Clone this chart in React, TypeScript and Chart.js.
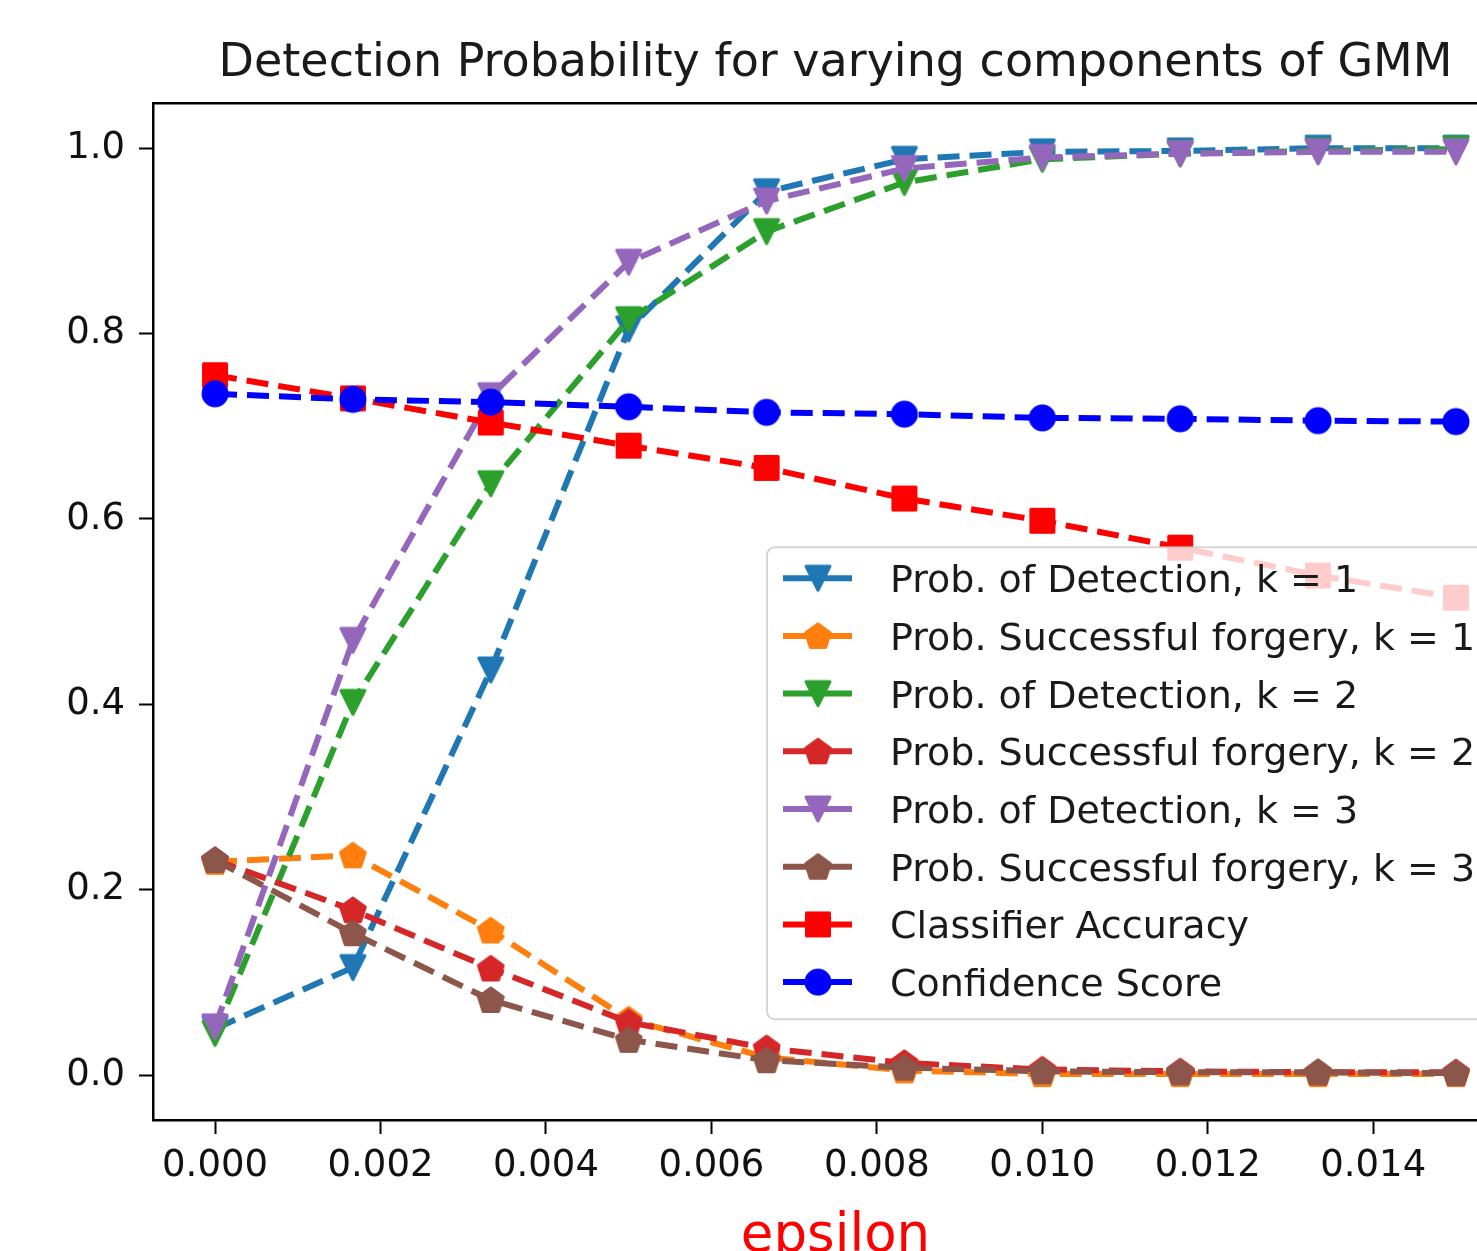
import React, { useEffect, useRef } from 'react';
import { Chart, registerables } from 'chart.js';

Chart.register(...registerables);

// ---- data ----
const epsilon = [0, 0.0016667, 0.0033333, 0.005, 0.0066667, 0.0083333, 0.01, 0.0116667, 0.0133333, 0.015];
const detectionK1 = [0.05, 0.116, 0.437, 0.805, 0.953, 0.988, 0.996, 0.997, 1.0, 1.0];
const forgeryK1 = [0.23, 0.237, 0.156, 0.06, 0.019, 0.005, 0.001, 0.001, 0.001, 0.001];
const detectionK2 = [0.045, 0.402, 0.638, 0.815, 0.91, 0.963, 0.988, 0.994, 0.997, 0.999];
const forgeryK2 = [0.232, 0.178, 0.115, 0.057, 0.029, 0.013, 0.006, 0.004, 0.003, 0.003];
const detectionK3 = [0.052, 0.469, 0.733, 0.877, 0.943, 0.978, 0.99, 0.994, 0.996, 0.996];
const forgeryK3 = [0.232, 0.153, 0.081, 0.038, 0.016, 0.008, 0.004, 0.003, 0.003, 0.002];
const classifierAccuracy = [0.755, 0.73, 0.704, 0.679, 0.655, 0.622, 0.598, 0.569, 0.539, 0.515];
const confidenceScore = [0.735, 0.729, 0.726, 0.721, 0.715, 0.713, 0.709, 0.708, 0.706, 0.705];

const seriesLabels = [
  'Prob. of Detection, k = 1',
  'Prob. Successful forgery, k = 1',
  'Prob. of Detection, k = 2',
  'Prob. Successful forgery, k = 2',
  'Prob. of Detection, k = 3',
  'Prob. Successful forgery, k = 3',
  'Classifier Accuracy',
  'Confidence Score',
];
const seriesValues = [detectionK1, forgeryK1, detectionK2, forgeryK2, detectionK3, forgeryK3, classifierAccuracy, confidenceScore];
const seriesColors = ['#1f77b4', '#ff7f0e', '#2ca02c', '#d62728', '#9467bd', '#8c564b', '#ff0000', '#0000ff'];
const seriesMarkers = ['triDown', 'pentagon', 'triDown', 'pentagon', 'triDown', 'pentagon', 'square', 'circle'];

const xTicks = [0, 0.002, 0.004, 0.006, 0.008, 0.01, 0.012, 0.014];
const yTicks = [0, 0.2, 0.4, 0.6, 0.8, 1.0];

const FONT = '"DejaVu Sans", "Liberation Sans", sans-serif';

function makeMarker(shape: string, color: string): HTMLCanvasElement {
  const size = 34;
  const c = document.createElement('canvas');
  c.width = size;
  c.height = size;
  const ctx = c.getContext('2d')!;
  const m = size / 2;
  ctx.fillStyle = color;
  ctx.strokeStyle = color;
  ctx.lineWidth = 3;
  ctx.lineJoin = 'round';
  ctx.beginPath();
  if (shape === 'circle') {
    ctx.arc(m, m, 12, 0, Math.PI * 2);
  } else if (shape === 'square') {
    ctx.rect(m - 11.5, m - 11.5, 23, 23);
  } else if (shape === 'triDown') {
    ctx.moveTo(m - 12, m - 12);
    ctx.lineTo(m + 12, m - 12);
    ctx.lineTo(m, m + 12);
    ctx.closePath();
  } else {
    const r = 13;
    for (let i = 0; i < 5; i++) {
      const a = -Math.PI / 2 + (i * 2 * Math.PI) / 5;
      const px = m + r * Math.cos(a);
      const py = m + 1 + r * Math.sin(a);
      if (i === 0) ctx.moveTo(px, py);
      else ctx.lineTo(px, py);
    }
    ctx.closePath();
  }
  ctx.fill();
  ctx.stroke();
  return c;
}

export default function App() {
  const ref = useRef<HTMLCanvasElement | null>(null);

  useEffect(() => {
    if (!ref.current) return;
    const markers = seriesMarkers.map((s, i) => makeMarker(s, seriesColors[i]));

    const datasets = seriesValues.map((vals, i) => ({
      label: seriesLabels[i],
      data: epsilon.map((x, j) => ({ x, y: vals[j] })),
      borderColor: seriesColors[i],
      backgroundColor: seriesColors[i],
      borderWidth: 6,
      borderDash: [22, 10],
      borderCapStyle: 'butt' as const,
      pointStyle: markers[i],
      pointRadius: 13,
      pointHoverRadius: 13,
      fill: false,
      tension: 0,
      order: seriesValues.length - 1 - i,
    }));

    const frameAndLegend = {
      id: 'frameAndLegend',
      afterDatasetsDraw(chart: any) {
        const { ctx, chartArea } = chart;
        ctx.save();
        // top and right spines
        ctx.strokeStyle = '#000';
        ctx.lineWidth = 2.5;
        ctx.setLineDash([]);
        ctx.beginPath();
        ctx.moveTo(chartArea.left, chartArea.top);
        ctx.lineTo(chartArea.right, chartArea.top);
        ctx.lineTo(chartArea.right, chartArea.bottom);
        ctx.stroke();

        // legend box
        const lx = chartArea.left + 614;
        const ly = chartArea.top + 444;
        const lw = 742;
        const lh = 472;
        const rr = 8;
        ctx.beginPath();
        ctx.moveTo(lx + rr, ly);
        ctx.lineTo(lx + lw - rr, ly);
        ctx.arcTo(lx + lw, ly, lx + lw, ly + rr, rr);
        ctx.lineTo(lx + lw, ly + lh - rr);
        ctx.arcTo(lx + lw, ly + lh, lx + lw - rr, ly + lh, rr);
        ctx.lineTo(lx + rr, ly + lh);
        ctx.arcTo(lx, ly + lh, lx, ly + lh - rr, rr);
        ctx.lineTo(lx, ly + rr);
        ctx.arcTo(lx, ly, lx + rr, ly, rr);
        ctx.closePath();
        ctx.fillStyle = 'rgba(255,255,255,0.8)';
        ctx.fill();
        ctx.strokeStyle = 'rgba(204,204,204,0.8)';
        ctx.lineWidth = 2;
        ctx.stroke();

        ctx.font = `38px ${FONT}`;
        ctx.textBaseline = 'alphabetic';
        ctx.textAlign = 'left';
        seriesLabels.forEach((label, i) => {
          const cy = ly + 31 + i * 57.7;
          ctx.strokeStyle = seriesColors[i];
          ctx.lineWidth = 6;
          ctx.beginPath();
          ctx.moveTo(lx + 16, cy);
          ctx.lineTo(lx + 85, cy);
          ctx.stroke();
          const mk = markers[i];
          ctx.drawImage(mk, lx + 51 - mk.width / 2, cy - mk.height / 2);
          ctx.fillStyle = '#1a1a1a';
          ctx.fillText(label, lx + 123, cy + 14);
        });
        ctx.restore();
      },
    };

    const chart = new Chart(ref.current, {
      type: 'line',
      data: { datasets },
      plugins: [frameAndLegend],
      options: {
        animation: false,
        responsive: false,
        devicePixelRatio: 1,
        layout: { padding: { left: 0, right: 22, top: 0, bottom: 0 } },
        plugins: {
          legend: { display: false },
          tooltip: { enabled: false },
          title: {
            display: true,
            text: 'Detection Probability for varying components of GMM',
            fullSize: false,
            color: '#1a1a1a',
            font: { family: FONT, size: 46, weight: 'normal', lineHeight: 1.2 },
            padding: { top: 36, bottom: 12 },
          },
        },
        scales: {
          x: {
            type: 'linear',
            min: -0.00075,
            max: 0.01575,
            afterBuildTicks: (scale: any) => {
              scale.ticks = xTicks.map((v) => ({ value: v }));
            },
            afterFit: (scale: any) => {
              scale.height = 131;
            },
            ticks: {
              color: '#111',
              font: { family: FONT, size: 37 },
              padding: 10,
              maxRotation: 0,
              autoSkip: false,
              callback: (v: any) => Number(v).toFixed(3),
            },
            grid: {
              drawOnChartArea: false,
              drawTicks: true,
              tickLength: 14,
              tickWidth: 2,
              tickColor: '#000',
            },
            border: { display: true, color: '#000', width: 2.5 },
            title: {
              display: true,
              text: 'epsilon',
              color: '#ff0000',
              font: { family: FONT, size: 53, lineHeight: 1.0 },
              padding: { top: 0, bottom: -13 },
            },
          },
          y: {
            type: 'linear',
            min: -0.0485,
            max: 1.0485,
            afterBuildTicks: (scale: any) => {
              scale.ticks = yTicks.map((v) => ({ value: v }));
            },
            afterFit: (scale: any) => {
              scale.width = 153;
            },
            ticks: {
              color: '#111',
              font: { family: FONT, size: 37 },
              padding: 14,
              autoSkip: false,
              callback: (v: any) => Number(v).toFixed(1),
            },
            grid: {
              drawOnChartArea: false,
              drawTicks: true,
              tickLength: 14,
              tickWidth: 2,
              tickColor: '#000',
            },
            border: { display: true, color: '#000', width: 2.5 },
          },
        },
      },
    });
    return () => chart.destroy();
  }, []);

  return (
    <div
      style={{
        position: 'fixed',
        left: 0,
        top: 0,
        width: 1477,
        height: 1251,
        overflow: 'hidden',
        background: '#fff',
      }}
    >
      <canvas ref={ref} width={1540} height={1251} style={{ display: 'block', width: 1540, height: 1251 }} />
    </div>
  );
}
